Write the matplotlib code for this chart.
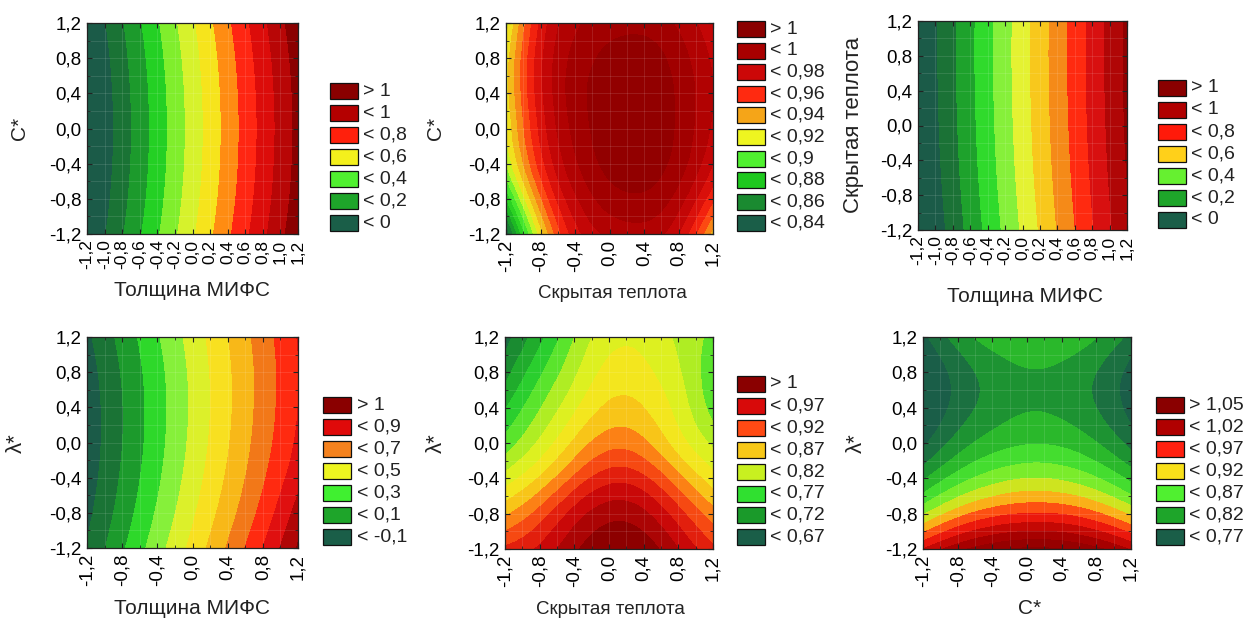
import numpy as np
import matplotlib
matplotlib.use("Agg")
import matplotlib.pyplot as plt
from matplotlib.patches import Rectangle
from matplotlib.tri import Triangulation, UniformTriRefiner
from matplotlib.ticker import MultipleLocator
import matplotlib.colors as mcolors

plt.rcParams['font.family'] = ['Liberation Sans', 'DejaVu Sans']

W, H = 1248, 625

# ---------------- data ----------------
grid_vals = [-1.2, -0.8, -0.4, 0.0, 0.4, 0.8, 1.2]

ticks_fine = [-1.2, -1.0, -0.8, -0.6, -0.4, -0.2, 0.0, 0.2, 0.4, 0.6, 0.8, 1.0, 1.2]
labels_fine = ["-1,2", "-1,0", "-0,8", "-0,6", "-0,4", "-0,2", "0,0",
               "0,2", "0,4", "0,6", "0,8", "1,0", "1,2"]
ticks_coarse = [-1.2, -0.8, -0.4, 0.0, 0.4, 0.8, 1.2]
labels_coarse = ["-1,2", "-0,8", "-0,4", "0,0", "0,4", "0,8", "1,2"]

# rows: y = -1.2 ... 1.2 ; columns: x = -1.2 ... 1.2
z_thick_c = [
    [-0.105, 0.091, 0.287, 0.483, 0.679, 0.875, 1.071],
    [-0.129, 0.067, 0.263, 0.459, 0.655, 0.851, 1.047],
    [-0.143, 0.053, 0.249, 0.445, 0.641, 0.837, 1.033],
    [-0.148, 0.048, 0.244, 0.440, 0.636, 0.832, 1.028],
    [-0.143, 0.053, 0.249, 0.445, 0.641, 0.837, 1.033],
    [-0.129, 0.067, 0.263, 0.459, 0.655, 0.851, 1.047],
    [-0.105, 0.091, 0.287, 0.483, 0.679, 0.875, 1.071],
]
z_heat_c = [
    [0.830, 0.915, 0.965, 0.982, 0.985, 0.970, 0.925],
    [0.870, 0.938, 0.978, 0.995, 0.998, 0.985, 0.952],
    [0.900, 0.955, 0.988, 1.003, 1.005, 0.995, 0.970],
    [0.910, 0.963, 0.993, 1.006, 1.008, 0.998, 0.978],
    [0.915, 0.967, 0.995, 1.006, 1.008, 0.998, 0.980],
    [0.914, 0.967, 0.993, 1.003, 1.005, 0.995, 0.978],
    [0.905, 0.962, 0.988, 0.995, 0.996, 0.988, 0.972],
]
z_thick_heat = [
    [-0.149, 0.039, 0.227, 0.415, 0.603, 0.791, 0.979],
    [-0.134, 0.054, 0.242, 0.430, 0.618, 0.806, 0.994],
    [-0.122, 0.066, 0.254, 0.442, 0.630, 0.818, 1.006],
    [-0.114, 0.074, 0.262, 0.450, 0.638, 0.826, 1.014],
    [-0.109, 0.079, 0.267, 0.455, 0.643, 0.831, 1.019],
    [-0.107, 0.081, 0.269, 0.457, 0.645, 0.833, 1.021],
    [-0.108, 0.080, 0.268, 0.456, 0.644, 0.832, 1.020],
]
z_thick_lam = [
    [-0.090, 0.084, 0.257, 0.431, 0.610, 0.800, 1.010],
    [-0.128, 0.042, 0.213, 0.383, 0.555, 0.735, 0.940],
    [-0.154, 0.014, 0.181, 0.348, 0.515, 0.685, 0.865],
    [-0.166, -0.002, 0.162, 0.326, 0.490, 0.654, 0.818],
    [-0.164, -0.004, 0.157, 0.318, 0.479, 0.640, 0.800],
    [-0.150, 0.008, 0.165, 0.323, 0.481, 0.638, 0.796],
    [-0.121, 0.033, 0.188, 0.342, 0.496, 0.651, 0.805],
]
z_heat_lam = [
    [0.925, 0.950, 0.990, 1.015, 1.010, 0.970, 0.925],
    [0.865, 0.905, 0.955, 0.985, 0.975, 0.930, 0.880],
    [0.805, 0.848, 0.900, 0.935, 0.925, 0.878, 0.830],
    [0.755, 0.800, 0.850, 0.885, 0.875, 0.832, 0.790],
    [0.718, 0.768, 0.815, 0.850, 0.845, 0.810, 0.760],
    [0.685, 0.740, 0.790, 0.828, 0.826, 0.798, 0.752],
    [0.660, 0.712, 0.770, 0.810, 0.812, 0.790, 0.762],
]
z_c_lam = [
    [0.970, 1.011, 1.037, 1.049, 1.045, 1.026, 0.992],
    [0.867, 0.909, 0.935, 0.946, 0.943, 0.924, 0.890],
    [0.791, 0.832, 0.858, 0.870, 0.866, 0.847, 0.813],
    [0.739, 0.781, 0.807, 0.818, 0.815, 0.796, 0.762],
    [0.714, 0.755, 0.781, 0.793, 0.789, 0.770, 0.736],
    [0.714, 0.755, 0.781, 0.793, 0.789, 0.770, 0.736],
    [0.739, 0.781, 0.807, 0.818, 0.815, 0.796, 0.762],
]

leg1_labels = ["> 1", "< 1", "< 0,8", "< 0,6", "< 0,4", "< 0,2", "< 0"]
leg2_labels = ["> 1", "< 1", "< 0,98", "< 0,96", "< 0,94", "< 0,92", "< 0,9",
               "< 0,88", "< 0,86", "< 0,84"]
leg3_labels = ["> 1", "< 1", "< 0,8", "< 0,6", "< 0,4", "< 0,2", "< 0"]
leg4_labels = ["> 1", "< 0,9", "< 0,7", "< 0,5", "< 0,3", "< 0,1", "< -0,1"]
leg5_labels = ["> 1", "< 0,97", "< 0,92", "< 0,87", "< 0,82", "< 0,77", "< 0,72", "< 0,67"]
leg6_labels = ["> 1,05", "< 1,02", "< 0,97", "< 0,92", "< 0,87", "< 0,82", "< 0,77"]

# ---------------- styles ----------------
leg1_colors = ["#8a0000", "#b40000", "#ff200c", "#f4f01c", "#50f030", "#1ea52a", "#1a5e48"]
leg2_colors = ["#8a0000", "#a80000", "#cc0808", "#ff2a10", "#f5a518", "#eef520",
               "#50f030", "#1ec81e", "#1a8a30", "#1a5e48"]
leg3_colors = ["#8a0000", "#b00000", "#ff1a0a", "#ffd01a", "#66f030", "#1ea52a", "#1a5e48"]
leg4_colors = ["#8a0000", "#e00a0a", "#f5821e", "#eef520", "#40f030", "#1ea52a", "#1a5e48"]
leg5_colors = ["#8a0000", "#d80a0a", "#ff4a14", "#f8c818", "#c8f020", "#30e030", "#1a9a2a", "#1a5e48"]
leg6_colors = ["#8a0000", "#b00000", "#ff2010", "#f8e01a", "#50f030", "#1ea52a", "#1a5e48"]

lev_a = [-0.4, 0.0, 0.1, 0.2, 0.3, 0.4, 0.5, 0.6, 0.7, 0.8, 0.9, 1.0, 1.4]
fill1 = ["#1b5b48", "#1a7335", "#1c9a2c", "#24d024", "#80ee2c", "#d6f22c",
         "#f6e41c", "#ff8c12", "#ff2612", "#dc0c0a", "#b80606", "#8a0000"]
fill3 = ["#1b5b48", "#1b7236", "#1ea22c", "#30da2c", "#86f03a", "#e4f232",
         "#f8c81c", "#f58a18", "#ff2a10", "#d81010", "#b00606", "#900000"]
lev_b = [-0.4, -0.1, 0.0, 0.1, 0.2, 0.3, 0.4, 0.5, 0.6, 0.7, 0.8, 0.9, 1.0, 1.4]
fill4 = ["#1b5b48", "#1a7335", "#1c9a2c", "#2ed82a", "#86f03a", "#dcf02a", "#f8e020",
         "#f8b818", "#f27818", "#ff2a10", "#e01010", "#b00606", "#880000"]


def interp_fill(levels, anchor_vals, anchor_cols):
    rgb = np.array([mcolors.to_rgb(c) for c in anchor_cols])
    out = []
    for i in range(len(levels) - 1):
        m = 0.5 * (levels[i] + levels[i + 1])
        out.append(tuple(float(np.interp(m, anchor_vals, rgb[:, k])) for k in range(3)))
    return out


lev2 = list(np.round(np.arange(0.78, 1.0301, 0.01), 3))
fill2 = interp_fill(lev2, [0.83, 0.85, 0.87, 0.89, 0.91, 0.93, 0.95, 0.97, 0.99, 1.01],
                    leg2_colors[::-1])
lev5 = list(np.round(np.arange(0.595, 1.0701, 0.025), 3))
fill5 = interp_fill(lev5, [0.645, 0.695, 0.745, 0.790, 0.825, 0.858, 0.897, 0.945, 1.01],
                    ["#1a5e48", "#1a9a2a", "#30e030", "#c8f020", "#f2f020",
                     "#f8c418", "#ff5a14", "#d80a0a", "#8a0000"])
lev6 = list(np.round(np.arange(0.695, 1.0951, 0.025), 3))
fill6 = interp_fill(lev6, [0.745, 0.795, 0.845, 0.895, 0.945, 0.995, 1.05],
                    leg6_colors[::-1])

# ---------------- figure ----------------
fig = plt.figure(figsize=(W / 100, H / 100), dpi=100)

n = len(grid_vals)
GX, GY = np.meshgrid(grid_vals, grid_vals)
tris = []
for j in range(n - 1):
    for i in range(n - 1):
        a = j * n + i
        b = a + 1
        c = a + n
        d = c + 1
        tris.append([a, b, d])
        tris.append([a, d, c])
tri = Triangulation(GX.ravel(), GY.ravel(), np.array(tris))
refiner = UniformTriRefiner(tri)


def rect(x0, y0, x1, y1):
    return [x0 / W, 1 - y1 / H, (x1 - x0) / W, (y1 - y0) / H]


panels = [
    dict(box=(87, 23, 298, 234), z=z_thick_c, lev=lev_a, fill=fill1, fine=True,
         xl="Толщина МИФС", xlpos=(192, 291), xls=15,
         yl="C*", ylpos=(20, 128), yls=15,
         leg=(leg1_labels, leg1_colors), legpos=(330, 83, 22.0, 363)),
    dict(box=(506, 23, 713, 234), z=z_heat_c, lev=lev2, fill=fill2, fine=False,
         xl="Скрытая теплота", xlpos=(612, 294), xls=13.5,
         yl="C*", ylpos=(436, 128), yls=15,
         leg=(leg2_labels, leg2_colors), legpos=(737, 21, 21.6, 770)),
    dict(box=(918, 21, 1127, 230), z=z_thick_heat, lev=lev_a, fill=fill3, fine=True,
         xl="Толщина МИФС", xlpos=(1025, 296), xls=15,
         yl="Скрытая теплота", ylpos=(853, 125), yls=16,
         leg=(leg3_labels, leg3_colors), legpos=(1158, 80, 22.0, 1191)),
    dict(box=(87, 337, 298, 548), z=z_thick_lam, lev=lev_b, fill=fill4, fine=False,
         xl="Толщина МИФС", xlpos=(192, 608), xls=15,
         yl="λ*", ylpos=(16, 443), yls=16,
         leg=(leg4_labels, leg4_colors), legpos=(323, 397, 22.0, 357)),
    dict(box=(505, 337, 713, 549), z=z_heat_lam, lev=lev5, fill=fill5, fine=False,
         xl="Скрытая теплота", xlpos=(610, 610), xls=13.5,
         yl="λ*", ylpos=(436, 443), yls=16,
         leg=(leg5_labels, leg5_colors), legpos=(737, 376, 21.9, 770)),
    dict(box=(923, 337, 1131, 549), z=z_c_lam, lev=lev6, fill=fill6, fine=False,
         xl="C*", xlpos=(1030, 609), xls=15,
         yl="λ*", ylpos=(856, 443), yls=16,
         leg=(leg6_labels, leg6_colors), legpos=(1156, 397, 22.0, 1189)),
]

for p in panels:
    ax = fig.add_axes(rect(*p["box"]))
    tri_r, z_r = refiner.refine_field(np.asarray(p["z"], float).ravel(), subdiv=4)
    ax.tricontourf(tri_r, z_r, levels=p["lev"], colors=p["fill"])
    ax.set_xlim(-1.2, 1.2)
    ax.set_ylim(-1.2, 1.2)
    if p["fine"]:
        ax.set_xticks(ticks_fine)
        ax.set_xticklabels(labels_fine, rotation=90, fontsize=12.5)
    else:
        ax.set_xticks(ticks_coarse)
        ax.set_xticklabels(labels_coarse, rotation=90, fontsize=13.5)
        ax.xaxis.set_minor_locator(MultipleLocator(0.2))
    ax.set_yticks(ticks_coarse)
    ax.set_yticklabels(labels_coarse, fontsize=13.5)
    ax.yaxis.set_minor_locator(MultipleLocator(0.2))
    ax.tick_params(which='major', direction='in', top=True, right=True,
                   length=3.5, width=0.8, pad=4, color='#222222')
    ax.tick_params(which='minor', direction='in', top=True, right=True,
                   length=2, width=0.6, color='#222222')
    ax.grid(True, which='both', color='white', alpha=0.13, lw=0.6)
    for s in ax.spines.values():
        s.set_linewidth(0.9)
        s.set_color('#222222')

    fig.text(p["xlpos"][0] / W, 1 - p["xlpos"][1] / H, p["xl"], ha='center', va='center',
             fontsize=p["xls"], color='#222222')
    fig.text(p["ylpos"][0] / W, 1 - p["ylpos"][1] / H, p["yl"], ha='center', va='center',
             fontsize=p["yls"], rotation=90, color='#222222')

    labels, colors = p["leg"]
    bx, top, step, tx = p["legpos"]
    bw, bh = 28, 16
    for k, (lab, col) in enumerate(zip(labels, colors)):
        y0 = top + k * step
        fig.add_artist(Rectangle((bx / W, 1 - (y0 + bh) / H), bw / W, bh / H,
                                 transform=fig.transFigure, facecolor=col,
                                 edgecolor='#111111', lw=0.9))
        fig.text(tx / W, 1 - (y0 + bh / 2) / H, lab, ha='left', va='center',
                 fontsize=14, color='#222222')

fig.savefig("out.png", dpi=100)
